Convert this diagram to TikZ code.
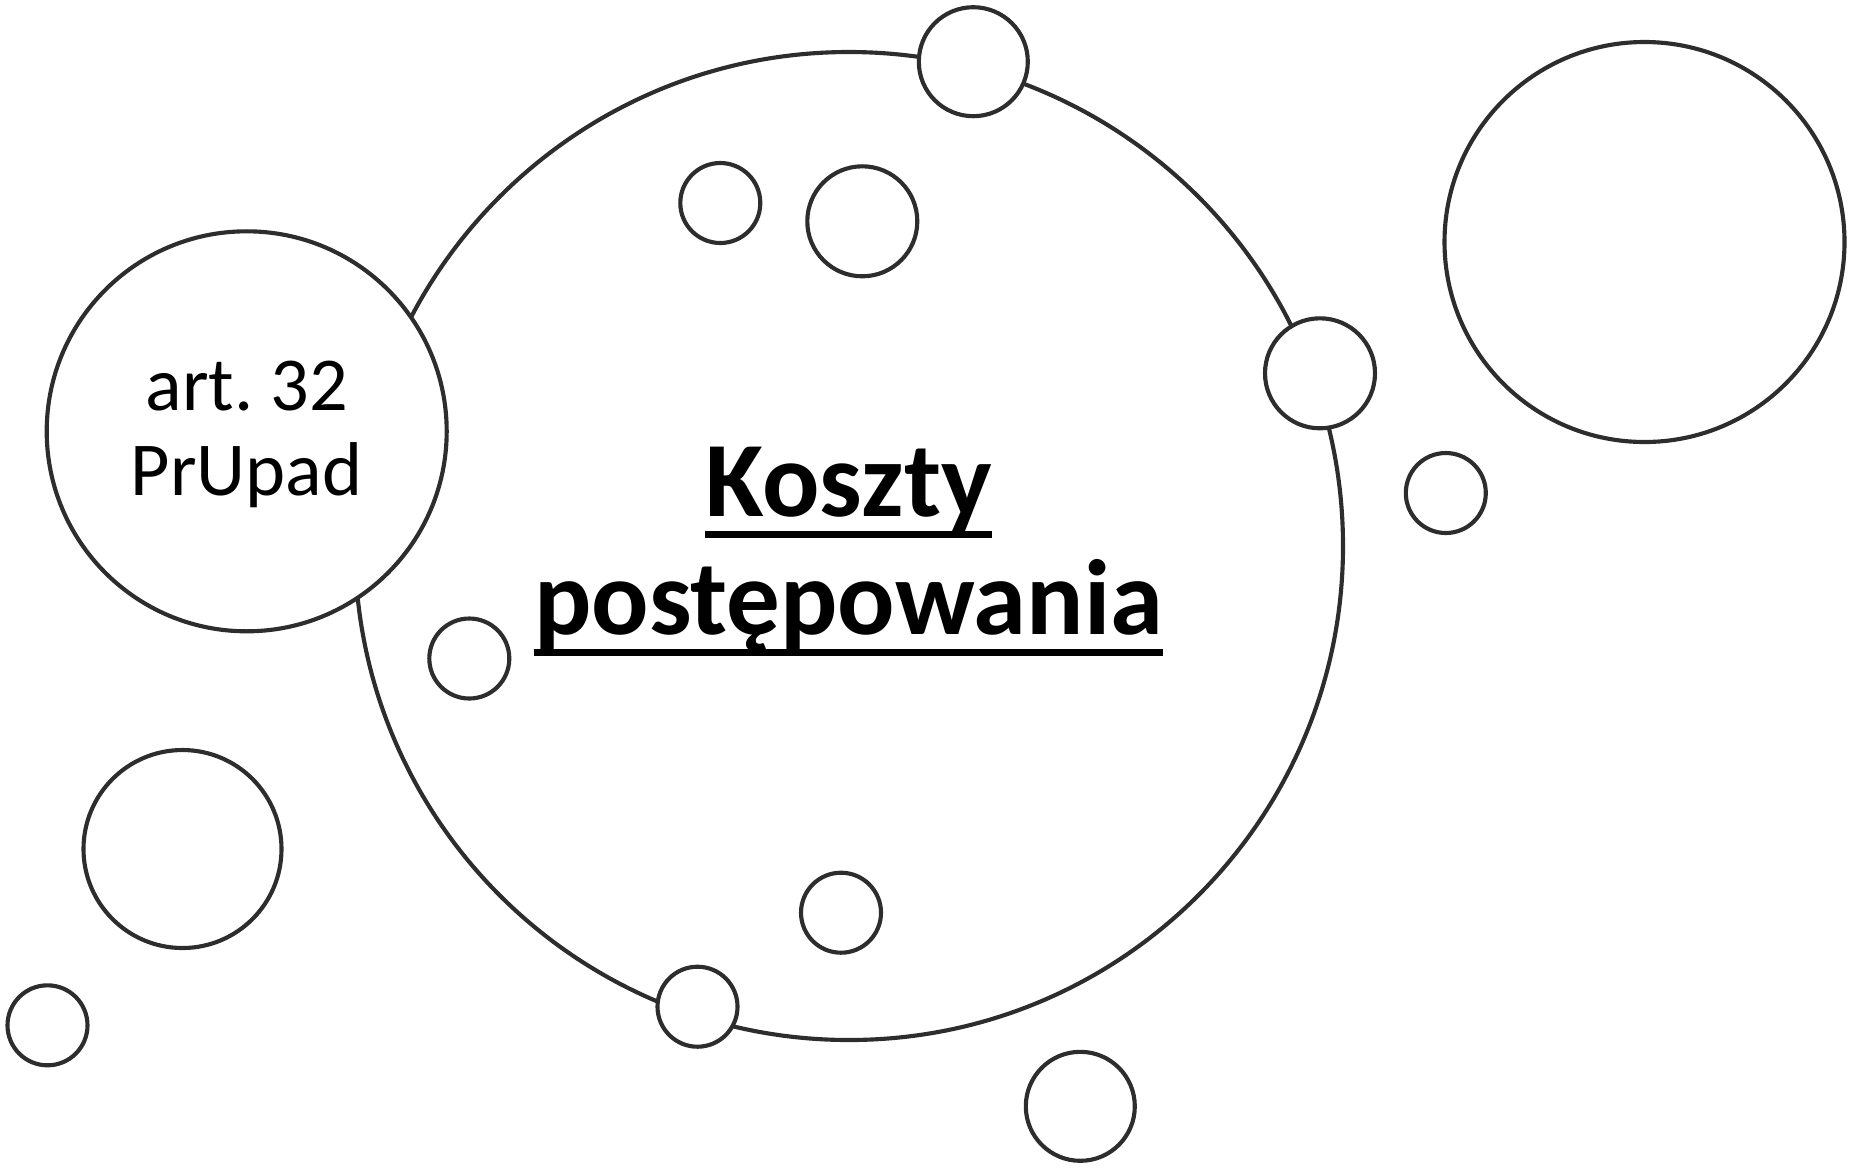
\documentclass[tikz,border=0pt]{standalone}
\usepackage{fontspec}
\setmainfont{Carlito}
\usepackage{tikz}
\usetikzlibrary{positioning}
\definecolor{cLine}{HTML}{2D2D2D}

\tikzset{
  bubble/.style={circle, draw=cLine, line width=1.65pt, fill=white, inner sep=0pt},
  artText/.style={font=\fontsize{30.5}{34}\selectfont, inner sep=0pt, anchor=base},
  headText/.style={font=\bfseries\fontsize{42.8}{46}\selectfont, inner sep=0pt, anchor=base},
  uline/.style={line width=2.8pt},
}

\begin{document}
\begin{tikzpicture}[x=0.4pt, y=-0.4pt]
  \useasboundingbox (0,0) rectangle (1865,1168);
  % main ring
  \node[bubble, minimum size=988*0.4pt] (ring) at (849,546) {};
  % article circle
  \node[bubble, minimum size=400*0.4pt] (art) at (246.7,431.3) {};
  \node[artText] (artA) at (246.7,410) {art.\ 32};
  \node[artText] (artB) at (246.7,495) {PrUpad};
  % small bubbles
  \foreach \nm/\cx/\cy/\d in {
      topDot/973.3/61.7/109, rightDot/1320/373.3/110, lowDot/697.5/1006.7/80,
      inA/720.3/203/80, inB/862.3/221.3/110, inC/469.3/658.5/80, inD/841/912.7/80,
      outA/1080.3/1106.3/109, outB/1445.8/493/80, outC/47.5/1025.3/80,
      outD/182.5/849/198, outE/1644.5/242/400}
    \node[bubble, minimum size=\d*0.4pt] (\nm) at (\cx,\cy) {};
  % title
  \node[headText] (koszty) at (848.5,516) {Koszty};
  \node[headText] (postep) at (848.5,634) {postępowania};
  \draw[uline] ([yshift=-7.3pt]koszty.base west) -- ([yshift=-7.3pt]koszty.base east);
  \draw[uline] ([yshift=-7.3pt]postep.base west) -- ([yshift=-7.3pt]postep.base east);
\end{tikzpicture}
\end{document}
